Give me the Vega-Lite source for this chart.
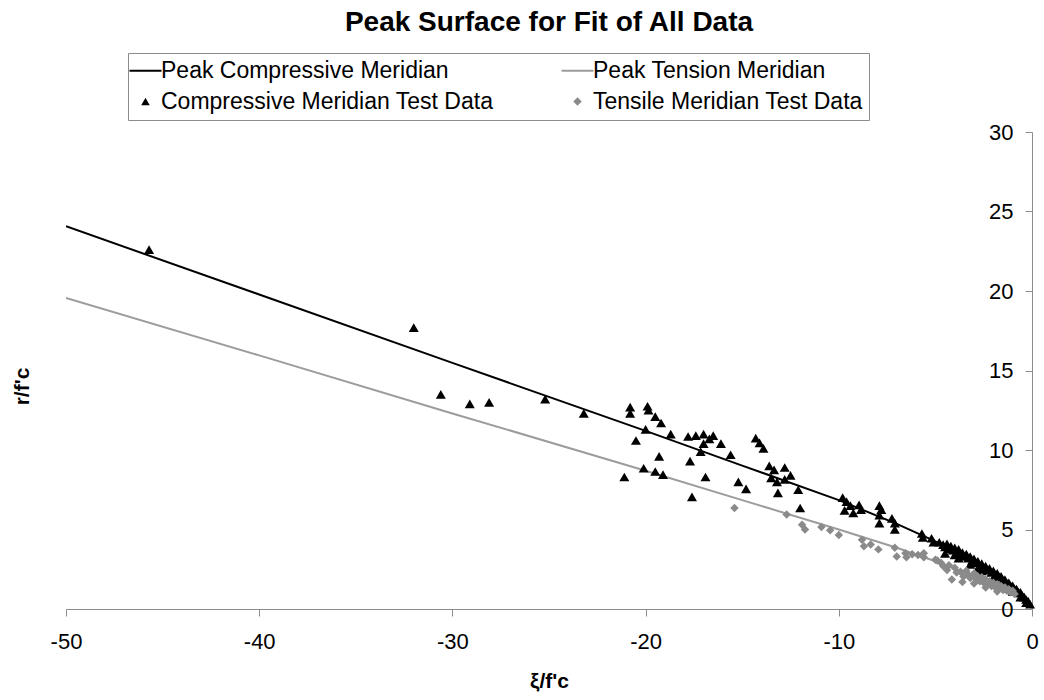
{
  "$schema": "https://vega.github.io/schema/vega-lite/v6.json",
  "width": 966,
  "height": 477,
  "autosize": {"type": "none"},
  "padding": {"left": 66, "top": 132, "right": 12, "bottom": 91},
  "background": "white",
  "config": {
    "view": {"stroke": null},
    "font": "Liberation Sans",
    "axis": {"grid": false, "domainColor": "#8c8c8c", "tickColor": "#8c8c8c", "labelColor": "#000", "titleColor": "#000", "labelFont": "Liberation Sans", "titleFont": "Liberation Sans"}
  },
  "title": {"text": "Peak Surface for Fit of All Data", "font": "Liberation Sans", "fontSize": 28, "fontWeight": "bold", "color": "#000", "anchor": "middle", "frame": "group", "offset": 16},
  "datasets": {
    "lines": [
      {"series": "Peak Compressive Meridian", "x": -50, "y": 24.07},
      {"series": "Peak Compressive Meridian", "x": -40, "y": 19.78},
      {"series": "Peak Compressive Meridian", "x": -30, "y": 15.48},
      {"series": "Peak Compressive Meridian", "x": -20, "y": 11.2},
      {"series": "Peak Compressive Meridian", "x": -15, "y": 9.02},
      {"series": "Peak Compressive Meridian", "x": -10, "y": 6.85},
      {"series": "Peak Compressive Meridian", "x": -7, "y": 5.35},
      {"series": "Peak Compressive Meridian", "x": -5, "y": 4.25},
      {"series": "Peak Compressive Meridian", "x": -4, "y": 3.65},
      {"series": "Peak Compressive Meridian", "x": -3, "y": 3.0},
      {"series": "Peak Compressive Meridian", "x": -2, "y": 2.2},
      {"series": "Peak Compressive Meridian", "x": -1, "y": 1.35},
      {"series": "Peak Compressive Meridian", "x": -0.5, "y": 0.85},
      {"series": "Peak Compressive Meridian", "x": -0.2, "y": 0.45},
      {"series": "Peak Compressive Meridian", "x": 0, "y": 0.1},
      {"series": "Peak Tension Meridian", "x": -50, "y": 19.57},
      {"series": "Peak Tension Meridian", "x": -40, "y": 15.95},
      {"series": "Peak Tension Meridian", "x": -30, "y": 12.3},
      {"series": "Peak Tension Meridian", "x": -20, "y": 8.7},
      {"series": "Peak Tension Meridian", "x": -15, "y": 6.85},
      {"series": "Peak Tension Meridian", "x": -10, "y": 5.0},
      {"series": "Peak Tension Meridian", "x": -7, "y": 3.85},
      {"series": "Peak Tension Meridian", "x": -5, "y": 3.0},
      {"series": "Peak Tension Meridian", "x": -4, "y": 2.55},
      {"series": "Peak Tension Meridian", "x": -3, "y": 2.05},
      {"series": "Peak Tension Meridian", "x": -2, "y": 1.5},
      {"series": "Peak Tension Meridian", "x": -1, "y": 0.9},
      {"series": "Peak Tension Meridian", "x": -0.5, "y": 0.55},
      {"series": "Peak Tension Meridian", "x": -0.2, "y": 0.3},
      {"series": "Peak Tension Meridian", "x": 0, "y": 0.05}
    ],
    "points": [
      {"series": "Compressive Meridian Test Data", "x": -45.7, "y": 22.6},
      {"series": "Compressive Meridian Test Data", "x": -32.0, "y": 17.7},
      {"series": "Compressive Meridian Test Data", "x": -30.6, "y": 13.5},
      {"series": "Compressive Meridian Test Data", "x": -29.1, "y": 12.9},
      {"series": "Compressive Meridian Test Data", "x": -28.1, "y": 13.0},
      {"series": "Compressive Meridian Test Data", "x": -25.2, "y": 13.2},
      {"series": "Compressive Meridian Test Data", "x": -23.2, "y": 12.3},
      {"series": "Compressive Meridian Test Data", "x": -20.8, "y": 12.7},
      {"series": "Compressive Meridian Test Data", "x": -20.8, "y": 12.3},
      {"series": "Compressive Meridian Test Data", "x": -19.9, "y": 12.75},
      {"series": "Compressive Meridian Test Data", "x": -19.85, "y": 12.5},
      {"series": "Compressive Meridian Test Data", "x": -19.5, "y": 12.1},
      {"series": "Compressive Meridian Test Data", "x": -19.2, "y": 11.7},
      {"series": "Compressive Meridian Test Data", "x": -20.0, "y": 11.3},
      {"series": "Compressive Meridian Test Data", "x": -20.5, "y": 10.6},
      {"series": "Compressive Meridian Test Data", "x": -18.7, "y": 11.0},
      {"series": "Compressive Meridian Test Data", "x": -17.8, "y": 10.85},
      {"series": "Compressive Meridian Test Data", "x": -17.4, "y": 10.9},
      {"series": "Compressive Meridian Test Data", "x": -17.0, "y": 11.0},
      {"series": "Compressive Meridian Test Data", "x": -16.5, "y": 10.9},
      {"series": "Compressive Meridian Test Data", "x": -16.7, "y": 10.7},
      {"series": "Compressive Meridian Test Data", "x": -17.0, "y": 10.4},
      {"series": "Compressive Meridian Test Data", "x": -16.1, "y": 10.4},
      {"series": "Compressive Meridian Test Data", "x": -17.15, "y": 9.9},
      {"series": "Compressive Meridian Test Data", "x": -15.6, "y": 9.7},
      {"series": "Compressive Meridian Test Data", "x": -19.3, "y": 9.6},
      {"series": "Compressive Meridian Test Data", "x": -17.7, "y": 9.3},
      {"series": "Compressive Meridian Test Data", "x": -20.1, "y": 8.85},
      {"series": "Compressive Meridian Test Data", "x": -19.5, "y": 8.65},
      {"series": "Compressive Meridian Test Data", "x": -19.1, "y": 8.45},
      {"series": "Compressive Meridian Test Data", "x": -21.1, "y": 8.3},
      {"series": "Compressive Meridian Test Data", "x": -16.9, "y": 8.3},
      {"series": "Compressive Meridian Test Data", "x": -15.2, "y": 8.0},
      {"series": "Compressive Meridian Test Data", "x": -14.8, "y": 7.55},
      {"series": "Compressive Meridian Test Data", "x": -17.6, "y": 7.05},
      {"series": "Compressive Meridian Test Data", "x": -14.3, "y": 10.75},
      {"series": "Compressive Meridian Test Data", "x": -14.1, "y": 10.45},
      {"series": "Compressive Meridian Test Data", "x": -13.9, "y": 10.1},
      {"series": "Compressive Meridian Test Data", "x": -13.6, "y": 9.0},
      {"series": "Compressive Meridian Test Data", "x": -13.35, "y": 8.75},
      {"series": "Compressive Meridian Test Data", "x": -12.8, "y": 8.9},
      {"series": "Compressive Meridian Test Data", "x": -13.5, "y": 8.25},
      {"series": "Compressive Meridian Test Data", "x": -13.2, "y": 8.0},
      {"series": "Compressive Meridian Test Data", "x": -12.5, "y": 8.4},
      {"series": "Compressive Meridian Test Data", "x": -12.8, "y": 8.15},
      {"series": "Compressive Meridian Test Data", "x": -13.15, "y": 7.3},
      {"series": "Compressive Meridian Test Data", "x": -12.1, "y": 7.5},
      {"series": "Compressive Meridian Test Data", "x": -12.0, "y": 6.35},
      {"series": "Compressive Meridian Test Data", "x": -9.8, "y": 7.0},
      {"series": "Compressive Meridian Test Data", "x": -9.6, "y": 6.75},
      {"series": "Compressive Meridian Test Data", "x": -9.4, "y": 6.5},
      {"series": "Compressive Meridian Test Data", "x": -9.7, "y": 6.2},
      {"series": "Compressive Meridian Test Data", "x": -9.25, "y": 6.05},
      {"series": "Compressive Meridian Test Data", "x": -8.95, "y": 6.55},
      {"series": "Compressive Meridian Test Data", "x": -8.85, "y": 6.25},
      {"series": "Compressive Meridian Test Data", "x": -7.9, "y": 6.5},
      {"series": "Compressive Meridian Test Data", "x": -7.8, "y": 6.25},
      {"series": "Compressive Meridian Test Data", "x": -7.9, "y": 5.9},
      {"series": "Compressive Meridian Test Data", "x": -7.9, "y": 5.4},
      {"series": "Compressive Meridian Test Data", "x": -7.25, "y": 5.7},
      {"series": "Compressive Meridian Test Data", "x": -7.1, "y": 5.4},
      {"series": "Compressive Meridian Test Data", "x": -7.1, "y": 5.0},
      {"series": "Compressive Meridian Test Data", "x": -5.7, "y": 4.75},
      {"series": "Compressive Meridian Test Data", "x": -5.65, "y": 4.5},
      {"series": "Compressive Meridian Test Data", "x": -5.2, "y": 4.45},
      {"series": "Compressive Meridian Test Data", "x": -5.1, "y": 4.2},
      {"series": "Compressive Meridian Test Data", "x": -4.8, "y": 4.2},
      {"series": "Compressive Meridian Test Data", "x": -4.6, "y": 4.05},
      {"series": "Compressive Meridian Test Data", "x": -4.5, "y": 3.9},
      {"series": "Compressive Meridian Test Data", "x": -4.4, "y": 4.1},
      {"series": "Compressive Meridian Test Data", "x": -4.3, "y": 3.8},
      {"series": "Compressive Meridian Test Data", "x": -4.2, "y": 3.95},
      {"series": "Compressive Meridian Test Data", "x": -4.1, "y": 3.7},
      {"series": "Compressive Meridian Test Data", "x": -4.0, "y": 3.85},
      {"series": "Compressive Meridian Test Data", "x": -3.9, "y": 3.6},
      {"series": "Compressive Meridian Test Data", "x": -3.8, "y": 3.75},
      {"series": "Compressive Meridian Test Data", "x": -3.7, "y": 3.45},
      {"series": "Compressive Meridian Test Data", "x": -3.6, "y": 3.55},
      {"series": "Compressive Meridian Test Data", "x": -3.5, "y": 3.3},
      {"series": "Compressive Meridian Test Data", "x": -3.4, "y": 3.45},
      {"series": "Compressive Meridian Test Data", "x": -3.3, "y": 3.2},
      {"series": "Compressive Meridian Test Data", "x": -3.2, "y": 3.3},
      {"series": "Compressive Meridian Test Data", "x": -3.1, "y": 3.05},
      {"series": "Compressive Meridian Test Data", "x": -3.0, "y": 3.15},
      {"series": "Compressive Meridian Test Data", "x": -2.9, "y": 2.9},
      {"series": "Compressive Meridian Test Data", "x": -2.8, "y": 3.0},
      {"series": "Compressive Meridian Test Data", "x": -2.7, "y": 2.75},
      {"series": "Compressive Meridian Test Data", "x": -2.6, "y": 2.85},
      {"series": "Compressive Meridian Test Data", "x": -2.5, "y": 2.6},
      {"series": "Compressive Meridian Test Data", "x": -2.4, "y": 2.7},
      {"series": "Compressive Meridian Test Data", "x": -2.3, "y": 2.45},
      {"series": "Compressive Meridian Test Data", "x": -2.2, "y": 2.55},
      {"series": "Compressive Meridian Test Data", "x": -2.1, "y": 2.3},
      {"series": "Compressive Meridian Test Data", "x": -2.0, "y": 2.4},
      {"series": "Compressive Meridian Test Data", "x": -1.9, "y": 2.15},
      {"series": "Compressive Meridian Test Data", "x": -1.8, "y": 2.25},
      {"series": "Compressive Meridian Test Data", "x": -1.7, "y": 2.0},
      {"series": "Compressive Meridian Test Data", "x": -1.6, "y": 2.05},
      {"series": "Compressive Meridian Test Data", "x": -1.5, "y": 1.8},
      {"series": "Compressive Meridian Test Data", "x": -1.4, "y": 1.85},
      {"series": "Compressive Meridian Test Data", "x": -1.3, "y": 1.6},
      {"series": "Compressive Meridian Test Data", "x": -1.2, "y": 1.65},
      {"series": "Compressive Meridian Test Data", "x": -1.1, "y": 1.45},
      {"series": "Compressive Meridian Test Data", "x": -1.0, "y": 1.45},
      {"series": "Compressive Meridian Test Data", "x": -0.9, "y": 1.25},
      {"series": "Compressive Meridian Test Data", "x": -0.8, "y": 1.25},
      {"series": "Compressive Meridian Test Data", "x": -0.7, "y": 1.05},
      {"series": "Compressive Meridian Test Data", "x": -0.6, "y": 1.05},
      {"series": "Compressive Meridian Test Data", "x": -0.5, "y": 0.85},
      {"series": "Compressive Meridian Test Data", "x": -0.4, "y": 0.75},
      {"series": "Compressive Meridian Test Data", "x": -0.3, "y": 0.6},
      {"series": "Compressive Meridian Test Data", "x": -0.2, "y": 0.5},
      {"series": "Compressive Meridian Test Data", "x": -0.1, "y": 0.3},
      {"series": "Compressive Meridian Test Data", "x": -4.5, "y": 3.5},
      {"series": "Compressive Meridian Test Data", "x": -3.8, "y": 3.2},
      {"series": "Compressive Meridian Test Data", "x": -3.2, "y": 2.8},
      {"series": "Compressive Meridian Test Data", "x": -2.6, "y": 2.4},
      {"series": "Compressive Meridian Test Data", "x": -2.0, "y": 1.95},
      {"series": "Compressive Meridian Test Data", "x": -1.5, "y": 1.55},
      {"series": "Compressive Meridian Test Data", "x": -1.0, "y": 1.1},
      {"series": "Compressive Meridian Test Data", "x": -0.6, "y": 0.75},
      {"series": "Compressive Meridian Test Data", "x": -0.3, "y": 0.4},
      {"series": "Compressive Meridian Test Data", "x": -4.0, "y": 3.4},
      {"series": "Compressive Meridian Test Data", "x": -2.8, "y": 2.55},
      {"series": "Compressive Meridian Test Data", "x": -1.2, "y": 1.3},
      {"series": "Tensile Meridian Test Data", "x": -15.4, "y": 6.35},
      {"series": "Tensile Meridian Test Data", "x": -12.7, "y": 5.95},
      {"series": "Tensile Meridian Test Data", "x": -11.9, "y": 5.3},
      {"series": "Tensile Meridian Test Data", "x": -11.75, "y": 5.0},
      {"series": "Tensile Meridian Test Data", "x": -10.9, "y": 5.15},
      {"series": "Tensile Meridian Test Data", "x": -10.45, "y": 4.95},
      {"series": "Tensile Meridian Test Data", "x": -10.0, "y": 4.65},
      {"series": "Tensile Meridian Test Data", "x": -8.8, "y": 4.35},
      {"series": "Tensile Meridian Test Data", "x": -8.7, "y": 3.95},
      {"series": "Tensile Meridian Test Data", "x": -8.35, "y": 4.05},
      {"series": "Tensile Meridian Test Data", "x": -7.95, "y": 3.75},
      {"series": "Tensile Meridian Test Data", "x": -7.1, "y": 3.85},
      {"series": "Tensile Meridian Test Data", "x": -7.0, "y": 3.3},
      {"series": "Tensile Meridian Test Data", "x": -6.55, "y": 3.5},
      {"series": "Tensile Meridian Test Data", "x": -6.5, "y": 3.25},
      {"series": "Tensile Meridian Test Data", "x": -6.2, "y": 3.45},
      {"series": "Tensile Meridian Test Data", "x": -5.9, "y": 3.4},
      {"series": "Tensile Meridian Test Data", "x": -5.6, "y": 3.5},
      {"series": "Tensile Meridian Test Data", "x": -5.6, "y": 3.25},
      {"series": "Tensile Meridian Test Data", "x": -5.0, "y": 3.1},
      {"series": "Tensile Meridian Test Data", "x": -4.9, "y": 3.05},
      {"series": "Tensile Meridian Test Data", "x": -4.6, "y": 2.7},
      {"series": "Tensile Meridian Test Data", "x": -4.4, "y": 2.45},
      {"series": "Tensile Meridian Test Data", "x": -4.15, "y": 1.85},
      {"series": "Tensile Meridian Test Data", "x": -3.7, "y": 2.35},
      {"series": "Tensile Meridian Test Data", "x": -3.55, "y": 2.05},
      {"series": "Tensile Meridian Test Data", "x": -4.7, "y": 2.9},
      {"series": "Tensile Meridian Test Data", "x": -4.3, "y": 2.75},
      {"series": "Tensile Meridian Test Data", "x": -4.0, "y": 2.6},
      {"series": "Tensile Meridian Test Data", "x": -3.9, "y": 2.3},
      {"series": "Tensile Meridian Test Data", "x": -3.4, "y": 2.4},
      {"series": "Tensile Meridian Test Data", "x": -3.3, "y": 2.15},
      {"series": "Tensile Meridian Test Data", "x": -3.2, "y": 1.95},
      {"series": "Tensile Meridian Test Data", "x": -3.0, "y": 2.25},
      {"series": "Tensile Meridian Test Data", "x": -2.9, "y": 1.9},
      {"series": "Tensile Meridian Test Data", "x": -2.8, "y": 2.05},
      {"series": "Tensile Meridian Test Data", "x": -2.7, "y": 1.75},
      {"series": "Tensile Meridian Test Data", "x": -2.6, "y": 2.0},
      {"series": "Tensile Meridian Test Data", "x": -2.5, "y": 1.65},
      {"series": "Tensile Meridian Test Data", "x": -2.4, "y": 1.85},
      {"series": "Tensile Meridian Test Data", "x": -2.3, "y": 1.55},
      {"series": "Tensile Meridian Test Data", "x": -2.2, "y": 1.75},
      {"series": "Tensile Meridian Test Data", "x": -2.1, "y": 1.45},
      {"series": "Tensile Meridian Test Data", "x": -2.0, "y": 1.65},
      {"series": "Tensile Meridian Test Data", "x": -1.9, "y": 1.35},
      {"series": "Tensile Meridian Test Data", "x": -1.8, "y": 1.55},
      {"series": "Tensile Meridian Test Data", "x": -1.7, "y": 1.3},
      {"series": "Tensile Meridian Test Data", "x": -1.6, "y": 1.45},
      {"series": "Tensile Meridian Test Data", "x": -1.5, "y": 1.2},
      {"series": "Tensile Meridian Test Data", "x": -1.4, "y": 1.35},
      {"series": "Tensile Meridian Test Data", "x": -1.3, "y": 1.15},
      {"series": "Tensile Meridian Test Data", "x": -1.2, "y": 1.25},
      {"series": "Tensile Meridian Test Data", "x": -1.1, "y": 1.05},
      {"series": "Tensile Meridian Test Data", "x": -1.0, "y": 1.15},
      {"series": "Tensile Meridian Test Data", "x": -0.9, "y": 0.95},
      {"series": "Tensile Meridian Test Data", "x": -3.6, "y": 1.7},
      {"series": "Tensile Meridian Test Data", "x": -3.0, "y": 1.6},
      {"series": "Tensile Meridian Test Data", "x": -2.4, "y": 1.35},
      {"series": "Tensile Meridian Test Data", "x": -1.8, "y": 1.1}
    ]
  },
  "layer": [
    {
      "data": {"name": "lines"},
      "mark": {"type": "line", "strokeWidth": 2, "clip": true},
      "encoding": {
        "x": {"field": "x", "type": "quantitative"},
        "y": {"field": "y", "type": "quantitative"},
        "detail": {"field": "series"},
        "color": {"field": "series", "type": "nominal"}
      }
    },
    {
      "data": {"name": "points"},
      "mark": {"type": "point", "filled": true, "opacity": 1},
      "encoding": {
        "x": {"field": "x", "type": "quantitative"},
        "y": {"field": "y", "type": "quantitative"},
        "color": {"field": "series", "type": "nominal"},
        "shape": {"field": "series", "type": "nominal"},
        "size": {"field": "series", "type": "nominal", "legend": null,
          "scale": {"domain": ["Compressive Meridian Test Data", "Tensile Meridian Test Data"], "range": [100, 72]}}
      }
    }
  ],
  "resolve": {"scale": {"color": "shared"}},
  "encoding": {
    "x": {"field": "x", "type": "quantitative", "scale": {"domain": [-50, 0], "nice": false, "zero": false},
      "axis": {"orient": "bottom", "values": [-50, -40, -30, -20, -10, 0], "labelExpr": "'' + datum.value", "title": "ξ/f'c", "titleFontSize": 21, "titleFontWeight": "bold", "titlePadding": 18, "labelFontSize": 22, "labelPadding": 15, "tickSize": 7, "labelFlush": false}},
    "y": {"field": "y", "type": "quantitative", "scale": {"domain": [0, 30], "nice": false},
      "axis": {"orient": "left", "offset": -966, "values": [0, 5, 10, 15, 20, 25, 30], "title": "r/f'c", "titleFontSize": 21, "titleFontWeight": "bold", "titleX": -1000, "titleY": 254, "titleAngle": -90, "labelFontSize": 22, "labelPadding": 12, "tickSize": 7}},
    "color": {"field": "series", "type": "nominal",
      "scale": {"domain": ["Peak Compressive Meridian", "Peak Tension Meridian", "Compressive Meridian Test Data", "Tensile Meridian Test Data"], "range": ["#000000", "#9c9c9c", "#000000", "#8a8a8a"]},
      "legend": {"orient": "none", "legendX": 62, "legendY": -79, "columns": 2, "title": null, "direction": "horizontal", "labelFontSize": 23, "labelLimit": 0, "labelFont": "Liberation Sans", "labelColor": "#000", "labelOffset": 4, "strokeColor": "#8c8c8c", "padding": 6, "columnPadding": 63, "rowPadding": 7, "symbolSize": 1024,
        "encode": {"symbols": {"update": {
          "fill": {"scale": "color", "field": "value"},
          "stroke": {"scale": "color", "field": "value"},
          "strokeWidth": {"signal": "indexof(['Peak Compressive Meridian','Peak Tension Meridian'], datum.value) >= 0 ? 2 : 0"},
          "size": {"signal": "indexof(['Peak Compressive Meridian','Peak Tension Meridian'], datum.value) >= 0 ? 1024 : 72"}
        }}}}},
    "shape": {"field": "series", "type": "nominal",
      "scale": {"domain": ["Peak Compressive Meridian", "Peak Tension Meridian", "Compressive Meridian Test Data", "Tensile Meridian Test Data"], "range": ["stroke", "stroke", "triangle-up", "diamond"]}}
  }
}
